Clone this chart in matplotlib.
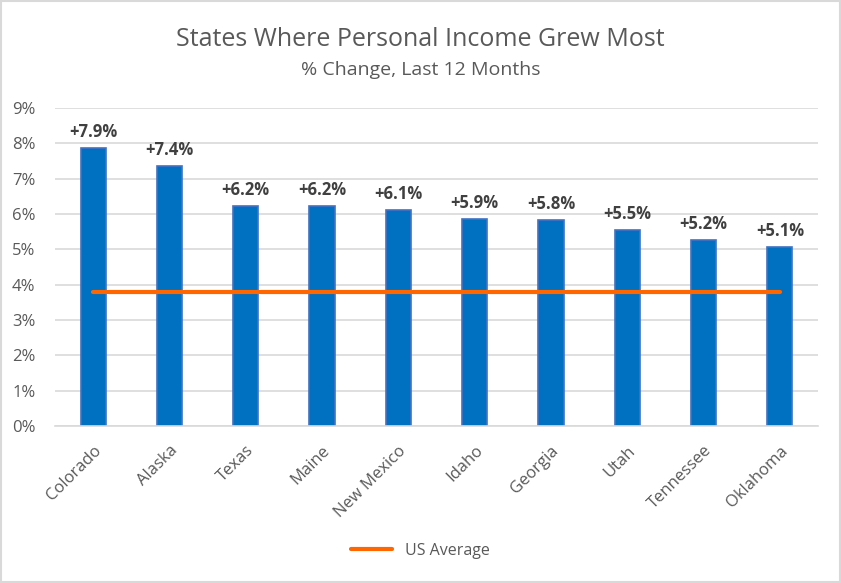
import matplotlib
matplotlib.use("Agg")
import matplotlib.pyplot as plt
import numpy as np

states = ["Colorado", "Alaska", "Texas", "Maine", "New Mexico",
          "Idaho", "Georgia", "Utah", "Tennessee", "Oklahoma"]
growth = [7.87, 7.36, 6.22, 6.22, 6.11, 5.87, 5.84, 5.55, 5.26, 5.06]
labels = ["+7.9%", "+7.4%", "+6.2%", "+6.2%", "+6.1%",
          "+5.9%", "+5.8%", "+5.5%", "+5.2%", "+5.1%"]
us_avg = [3.8] * len(states)

plt.rcParams['font.family'] = ['Open Sans', 'DejaVu Sans']

fig = plt.figure(figsize=(8.41, 5.83), dpi=100)
ax = fig.add_axes([55/841, 1-426/583, 763/841, 318/583])

x = np.arange(len(states))
ax.bar(x, growth, width=0.33, color='#0070C0', edgecolor='#4472C4', linewidth=1.2, zorder=2)
ax.plot(x, us_avg, color='#FF6600', linewidth=3, solid_capstyle='round', zorder=3, label='US Average')

for xi, v, t in zip(x, growth, labels):
    ax.text(xi, v + 0.2, t, ha='center', va='bottom', fontsize=12,
            fontweight='bold', color='#404040')

ax.set_xlim(-0.5, len(states) - 0.5)
ax.set_ylim(0, 9)
ax.set_yticks(range(0, 10))
ax.set_yticklabels([f"{i}%" for i in range(0, 10)])
ax.yaxis.grid(True, color='#D9D9D9', linewidth=1.2, zorder=0)
ax.set_axisbelow(True)
for s in ['top', 'right', 'left']:
    ax.spines[s].set_visible(False)
ax.spines['bottom'].set_color('#D9D9D9')
ax.spines['bottom'].set_linewidth(1.2)
ax.tick_params(axis='both', length=0, colors='#595959', labelsize=12)
ax.tick_params(axis='y', pad=14)
ax.set_xticks(x)
ax.set_xticklabels(states, rotation=45, ha='right', rotation_mode='anchor')
ax.tick_params(axis='x', pad=12)

fig.text(0.5, 1-39/583, "States Where Personal Income Grew Most", ha='center', va='center',
         fontsize=18, color='#595959')
fig.text(0.5, 1-70/583, "% Change, Last 12 Months", ha='center', va='center',
         fontsize=14, color='#595959')

fig.legend(loc='center', bbox_to_anchor=(0.5, 1-551/583), frameon=False,
           fontsize=11.5, labelcolor='#595959', handlelength=2.6)

fig.patches.append(plt.Rectangle((0.001, 0.001), 0.998, 0.998, transform=fig.transFigure,
                                 fill=False, edgecolor='#D9D9D9', linewidth=1.5))

fig.savefig("out.png", dpi=100)
